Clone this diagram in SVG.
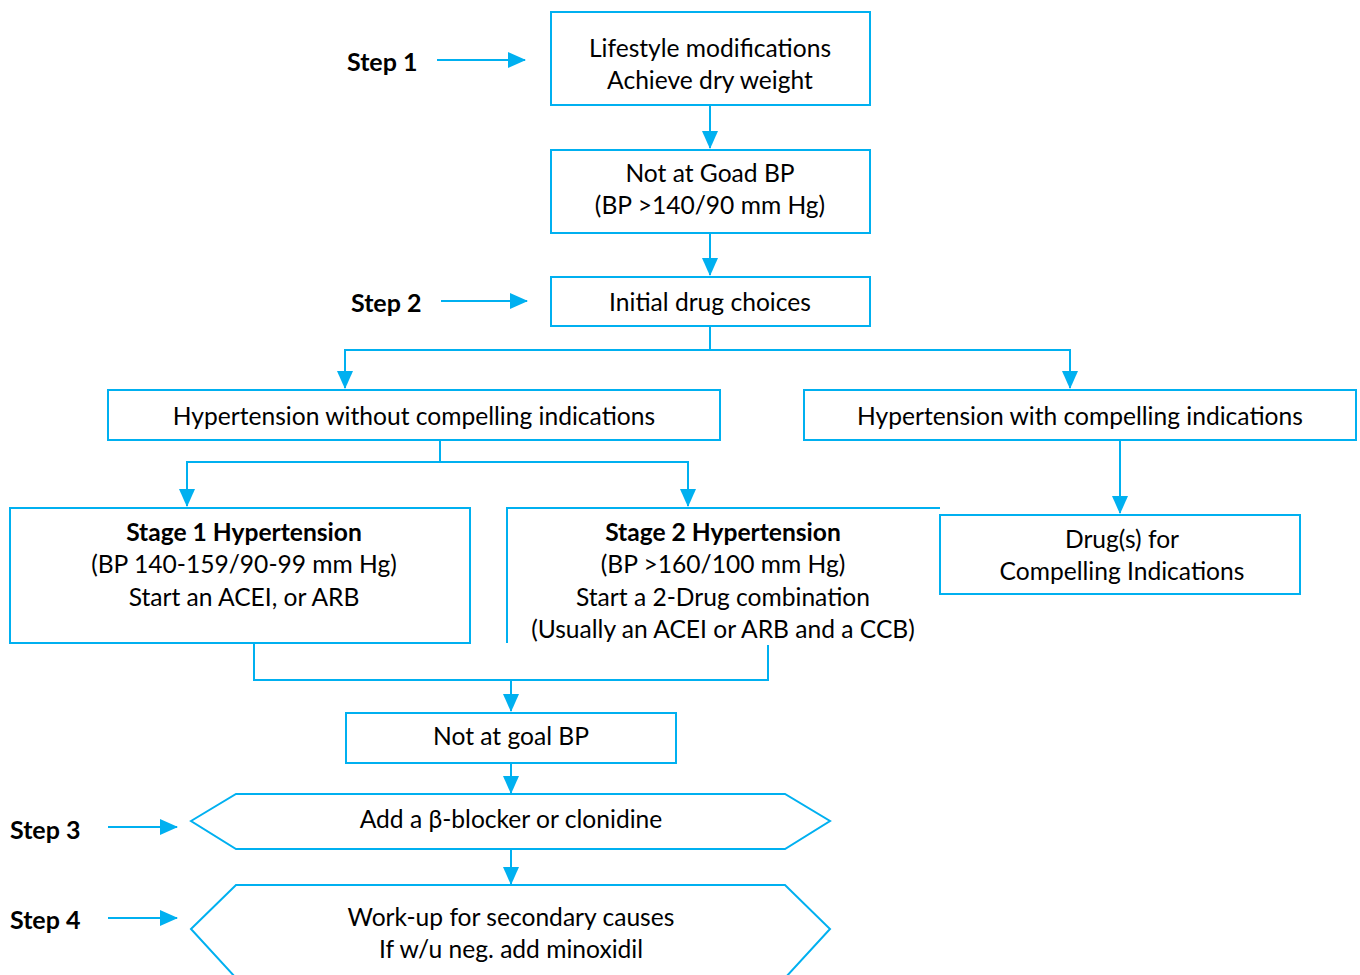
<svg xmlns="http://www.w3.org/2000/svg" width="1360" height="975" viewBox="0 0 1360 975">
<style>
.box{fill:#fff;stroke:#00B0F0;stroke-width:2}
.ln{fill:none;stroke:#00B0F0;stroke-width:2}
text{font-family:Lato,"Open Sans",sans-serif;font-size:24.6px;fill:#000;text-anchor:middle;dominant-baseline:central}
.b{font-weight:bold}
.step{font-weight:bold;text-anchor:start;font-size:25px}
</style>
<defs>
<marker id="ah" markerWidth="18" markerHeight="16" refX="17" refY="8" orient="auto" markerUnits="userSpaceOnUse">
<path d="M0,0 L18,8 L0,16 Z" fill="#00B0F0"/>
</marker>
</defs>
<g id="connectors">
<line class="ln" x1="437" y1="60" x2="525" y2="60" marker-end="url(#ah)"/>
<line class="ln" x1="441" y1="301" x2="527" y2="301" marker-end="url(#ah)"/>
<line class="ln" x1="108" y1="827" x2="177" y2="827" marker-end="url(#ah)"/>
<line class="ln" x1="108" y1="918" x2="177" y2="918" marker-end="url(#ah)"/>
<line class="ln" x1="710" y1="105" x2="710" y2="148" marker-end="url(#ah)"/>
<line class="ln" x1="710" y1="233" x2="710" y2="275" marker-end="url(#ah)"/>
<polyline class="ln" points="710,326 710,350 345,350 345,388" marker-end="url(#ah)"/>
<polyline class="ln" points="710,350 1070,350 1070,388" marker-end="url(#ah)"/>
<polyline class="ln" points="440,440 440,462 187,462 187,506" marker-end="url(#ah)"/>
<polyline class="ln" points="440,462 688,462 688,506" marker-end="url(#ah)"/>
<line class="ln" x1="1120" y1="440" x2="1120" y2="513" marker-end="url(#ah)"/>
<polyline class="ln" points="254,643 254,680 768,680 768,645"/>
<line class="ln" x1="511" y1="680" x2="511" y2="711" marker-end="url(#ah)"/>
<line class="ln" x1="511" y1="763" x2="511" y2="793" marker-end="url(#ah)"/>
<line class="ln" x1="511" y1="849" x2="511" y2="884" marker-end="url(#ah)"/>
</g>
<g id="steps">
<text class="step" x="347" y="61">Step 1</text>
<text class="step" x="351" y="302">Step 2</text>
<text class="step" x="10" y="829">Step 3</text>
<text class="step" x="10" y="919">Step 4</text>
</g>
<g id="lifestyle">
<rect class="box" x="551" y="12" width="319" height="93"/>
<text x="710" y="47">Lifestyle modifications</text>
<text x="710" y="79">Achieve dry weight</text>
</g>
<g id="not-at-goal-1">
<rect class="box" x="551" y="150" width="319" height="83"/>
<text x="710" y="172">Not at Goad BP</text>
<text x="710" y="204">(BP &gt;140/90 mm Hg)</text>
</g>
<g id="initial">
<rect class="box" x="551" y="277" width="319" height="49"/>
<text x="710" y="301">Initial drug choices</text>
</g>
<g id="without">
<rect class="box" x="108" y="390" width="612" height="50"/>
<text x="414" y="415">Hypertension without compelling indications</text>
</g>
<g id="with">
<rect class="box" x="804" y="390" width="552" height="50"/>
<text x="1080" y="415">Hypertension with compelling indications</text>
</g>
<g id="stage1">
<rect class="box" x="10" y="508" width="460" height="135"/>
<text class="b" x="244" y="531">Stage 1 Hypertension</text>
<text x="244" y="563">(BP 140-159/90-99 mm Hg)</text>
<text x="244" y="596">Start an ACEI, or ARB</text>
</g>
<g id="stage2">
<path class="ln" d="M940,508 H507 V643"/>
<text class="b" x="723" y="531">Stage 2 Hypertension</text>
<text x="723" y="563">(BP &gt;160/100 mm Hg)</text>
<text x="723" y="596">Start a 2-Drug combination</text>
<text x="723" y="628">(Usually an ACEI or ARB and a CCB)</text>
</g>
<g id="drugs">
<rect class="box" x="940" y="515" width="360" height="79"/>
<text x="1122" y="538">Drug(s) for</text>
<text x="1122" y="570">Compelling Indications</text>
</g>
<g id="not-at-goal-2">
<rect class="box" x="346" y="713" width="330" height="50"/>
<text x="511" y="735">Not at goal BP</text>
</g>
<g id="step3-box">
<polygon class="box" points="191,821 236,794 785,794 830,821 785,849 236,849"/>
<text x="511" y="818">Add a β-blocker or clonidine</text>
</g>
<g id="step4-box">
<polygon class="box" points="191,929 236,885 785,885 830,929 785,978 236,978"/>
<text x="511" y="916">Work-up for secondary causes</text>
<text x="511" y="948">If w/u neg. add minoxidil</text>
</g>
</svg>
